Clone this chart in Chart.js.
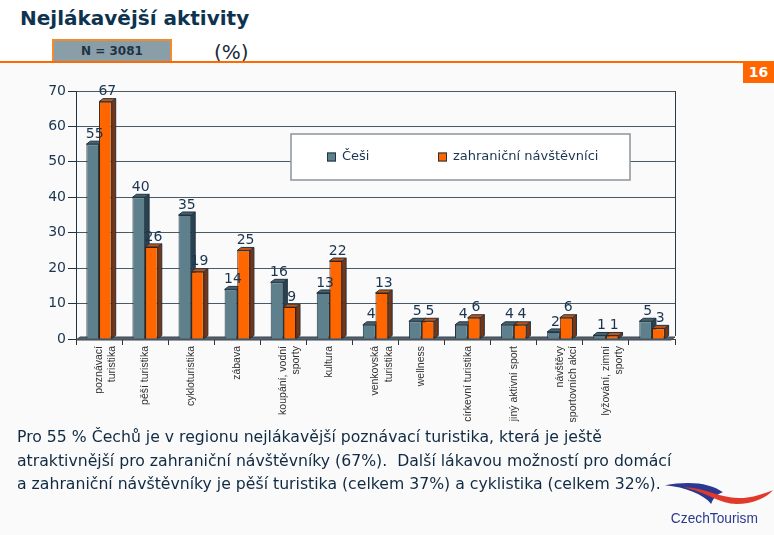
<!DOCTYPE html>
<html>
<head>
<meta charset="utf-8">
<script src="https://cdn.jsdelivr.net/npm/chart.js@4.4.1/dist/chart.umd.min.js"></script>
<style>
html,body{margin:0;padding:0;}
body{width:774px;height:535px;position:relative;overflow:hidden;background:#fafafa;font-family:"DejaVu Sans",Verdana,sans-serif;}
#top{position:absolute;left:0;top:0;width:774px;height:62px;background:#fff;}
#title{position:absolute;left:20px;top:6px;font-size:20px;font-weight:bold;color:#0d3350;white-space:nowrap;}
#nbox{position:absolute;left:52px;top:39px;width:116px;height:20px;background:#8a9ea8;border:2px solid #f28a30;font-size:12px;font-weight:bold;color:#1d3346;text-align:center;line-height:20px;}
#pct{position:absolute;left:214px;top:40px;font-size:20px;color:#1a2a3a;}
#rule{position:absolute;left:0;top:61px;width:774px;height:2px;background:#ff6a00;}
#page{position:absolute;left:743px;top:62px;width:31px;height:21px;background:#ff6600;color:#fff;font-weight:bold;font-size:14px;text-align:center;line-height:21px;}
#wrap{position:absolute;left:0;top:80px;width:700px;height:355px;}
#txt{position:absolute;left:17px;top:425px;font-size:15.7px;line-height:23.5px;color:#102a43;white-space:nowrap;}
#logo{position:absolute;left:662px;top:478px;}
</style>
</head>
<body>
<div id="top"></div>
<div id="title">Nejlákavější aktivity</div>
<div id="nbox">N = 3081</div>
<div id="pct">(%)</div>
<div id="rule"></div>
<div id="page">16</div>
<div id="wrap"><canvas id="chart" width="700" height="355"></canvas></div>
<div id="txt">Pro 55 % Čechů je v regionu nejlákavější poznávací turistika, která je ještě<br>atraktivnější pro zahraniční návštěvníky (67%).&nbsp; Další lákavou možností pro domácí<br>a zahraniční návštěvníky je pěší turistika (celkem 37%) a cyklistika (celkem 32%).</div>
<svg id="logo" width="112" height="52" viewBox="0 0 114 52">
  <path d="M3,7 C28,2 50,5 62,14 C56,16 52,20 50,26 C42,16 24,9 3,7 Z" fill="#2b3990"/>
  <path d="M22,9 C44,9 58,20 78,20 C93,20 104,15 113,12 C106,20 92,26 76,26 C58,26 46,14 22,9 Z" fill="#e03a2a"/>
  <text x="9" y="45" font-family="Liberation Sans, Arial, sans-serif" font-size="14" fill="#2b3990">CzechTourism</text>
</svg>
<script>
const categories = [
  ["poznávací", "turistika"],
  "pěší turistika",
  "cykloturistika",
  "zábava",
  ["koupání, vodní", "sporty"],
  "kultura",
  ["venkovská", "turistika"],
  "wellness",
  "církevní turistika",
  "jiný aktivní sport",
  ["návštěvy", "sportovních akcí"],
  ["lyžování, zimní", "sporty"],
  ""
];
const cesi = [55, 40, 35, 14, 16, 13, 4, 5, 4, 4, 2, 1, 5];
const zahranicni = [67, 26, 19, 25, 9, 22, 13, 5, 6, 4, 6, 1, 3];
const yTicks = [0, 10, 20, 30, 40, 50, 60, 70];

const DX = 4, DY = 3;
const faces = [
  {top: "#47616d", side: "#2a4250"},
  {top: "#c85414", side: "#7a3412"}
];

function poly(ctx, pts){
  ctx.beginPath();
  ctx.moveTo(pts[0][0], pts[0][1]);
  for(let i = 1; i < pts.length; i++) ctx.lineTo(pts[i][0], pts[i][1]);
  ctx.closePath();
  ctx.fill();
  ctx.stroke();
}

// 3D sides, floor and right wall edge, drawn under the bar fronts
const bar3d = {
  id: "bar3d",
  beforeDatasetsDraw(chart){
    const ctx = chart.ctx, a = chart.chartArea;
    ctx.save();
    ctx.strokeStyle = "#2a3a48";
    ctx.lineWidth = 1;
    ctx.beginPath();
    ctx.moveTo(a.right + 0.5, a.top);
    ctx.lineTo(a.right + 0.5, a.bottom - DY);
    ctx.stroke();

    ctx.fillStyle = "#56626b";
    ctx.strokeStyle = "#3b4650";
    poly(ctx, [[a.left, a.bottom + 1], [a.right - DX, a.bottom + 1], [a.right, a.bottom - DY + 1], [a.left + DX, a.bottom - DY + 1]]);

    ctx.strokeStyle = "#1f3442";
    chart.data.datasets.forEach((ds, i) => {
      chart.getDatasetMeta(i).data.forEach(b => {
        const l = b.x - b.width / 2, r = b.x + b.width / 2;
        ctx.fillStyle = faces[i].side;
        poly(ctx, [[r, b.y], [r + DX, b.y - DY], [r + DX, b.base - DY], [r, b.base]]);
        ctx.fillStyle = faces[i].top;
        poly(ctx, [[l, b.y], [l + DX, b.y - DY], [r + DX, b.y - DY], [r, b.y]]);
      });
    });
    ctx.restore();
  },
  afterDatasetsDraw(chart){
    const ctx = chart.ctx, a = chart.chartArea;
    ctx.save();
    // value labels
    ctx.font = "14px 'DejaVu Sans'";
    ctx.fillStyle = "#1a3550";
    ctx.textAlign = "center";
    ctx.textBaseline = "bottom";
    chart.data.datasets.forEach((ds, i) => {
      chart.getDatasetMeta(i).data.forEach((b, j) => {
        ctx.fillText(ds.data[j], b.x + DX / 2, b.y - DY);
      });
    });
    // legend box
    const lx = a.left + 215, ly = a.top + 43, lw = 339, lh = 46;
    ctx.fillStyle = "#fff";
    ctx.fillRect(lx, ly, lw, lh);
    ctx.strokeStyle = "#8c949b";
    ctx.lineWidth = 1.5;
    ctx.strokeRect(lx, ly, lw, lh);
    ctx.font = "13px 'DejaVu Sans'";
    ctx.textAlign = "left";
    ctx.textBaseline = "middle";
    const offs = [36, 147];
    chart.data.datasets.forEach((ds, i) => {
      const sx = lx + offs[i], sy = ly + lh / 2 - 4.5;
      ctx.fillStyle = ds.backgroundColor;
      ctx.strokeStyle = "#1f3442";
      ctx.lineWidth = 1;
      ctx.fillRect(sx, sy, 9, 9);
      ctx.strokeRect(sx + 0.5, sy + 0.5, 8, 8);
      ctx.fillStyle = "#1a3550";
      ctx.fillText(ds.label, sx + 15, ly + lh / 2);
    });
    ctx.restore();
  }
};

new Chart(document.getElementById("chart"), {
  type: "bar",
  data: {
    labels: categories,
    datasets: [
      {label: "Češi", data: cesi, backgroundColor: "#5e7f8c", borderColor: "#1f3442", borderWidth: 1},
      {label: "zahraniční návštěvníci", data: zahranicni, backgroundColor: "#ff6600", borderColor: "#3a2010", borderWidth: 1}
    ]
  },
  options: {
    responsive: false,
    animation: false,
    layout: {padding: {top: 11, right: 25, left: 0, bottom: 0}},
    datasets: {bar: {categoryPercentage: 0.55, barPercentage: 1}},
    plugins: {legend: {display: false}, tooltip: {enabled: false}},
    scales: {
      x: {
        afterFit: s => { s.height = 96; },
        grid: {drawOnChartArea: false, drawTicks: true, tickLength: 6, color: "#333"},
        border: {color: "#3b4650"},
        ticks: {
          autoSkip: false, minRotation: 90, maxRotation: 90, padding: 1,
          color: "#333",
          font: {family: "'Liberation Sans'", size: 10.5, lineHeight: 1.25}
        }
      },
      y: {
        min: 0, max: 70,
        afterFit: s => { s.width = 76; },
        afterBuildTicks: s => { s.ticks = yTicks.map(v => ({value: v})); },
        grid: {color: "#4a5966", tickLength: 8, tickColor: "#1f3442"},
        border: {color: "#1f3442"},
        ticks: {color: "#1a3550", padding: 2, font: {family: "'DejaVu Sans'", size: 14}}
      }
    }
  },
  plugins: [bar3d]
});
</script>
</body>
</html>
